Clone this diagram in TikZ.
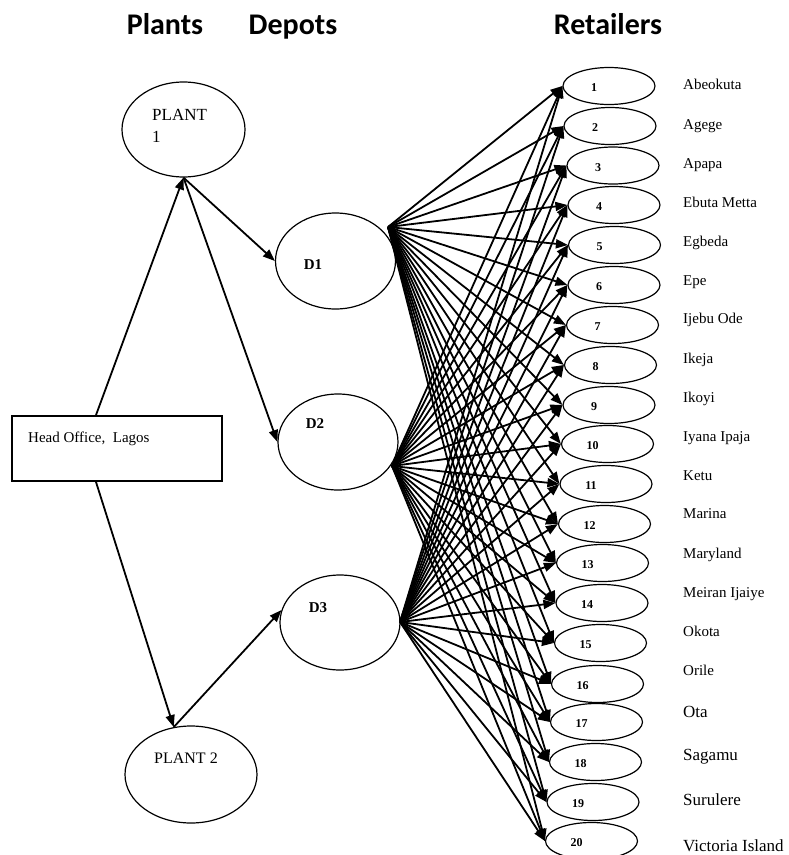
\documentclass[tikz,border=0pt]{standalone}
\usepackage{fontspec}
\setmainfont{Liberation Serif}
\newfontfamily\hdr{Carlito}
\usetikzlibrary{arrows.meta,shapes.geometric,calc}
\begin{document}
\begin{tikzpicture}[x=1pt,y=-1pt,
  oval/.style={draw,ellipse,line width=1.2pt,inner sep=0pt},
  ret/.style={oval,minimum width=92pt,minimum height=37pt},
  dep/.style={oval,minimum width=120pt,minimum height=96pt},
  conn/.style={line width=1.8pt,-{Triangle[length=12pt,width=9pt]}},
  hd/.style={font=\hdr\bfseries\fontsize{30}{34}\selectfont,anchor=base,inner sep=0pt},
  lab/.style={font=\fontsize{15}{18}\selectfont,inner sep=0pt},
  plab/.style={font=\fontsize{17}{20}\selectfont,inner sep=0pt},
  biglab/.style={font=\fontsize{17}{20}\selectfont,inner sep=0pt},
  dlab/.style={font=\bfseries\fontsize{15}{18}\selectfont,inner sep=0pt,anchor=base},
  numlab/.style={font=\bfseries\fontsize{12}{14}\selectfont,inner sep=0pt}]
\useasboundingbox (0,0) rectangle (788,855);

% headers
\node[hd] (hplants) at (165,34) {Plants};
\node[hd] (hdepots) at (293,34) {Depots};
\node[hd] (hret) at (608,34) {Retailers};

% head office and plants
\node[draw,line width=1.2pt,minimum width=210pt,minimum height=65pt,inner sep=0pt] (ho) at (117,448.5) {};
\node[lab,anchor=base west] (holab) at (28,442) {Head Office,\ \ Lagos};
\node[oval,minimum width=123pt,minimum height=95pt] (p1) at (183.5,129.5) {};
\node[plab,anchor=base west] (p1lab) at (152,120) {PLANT};
\node[plab,anchor=base west] (p1lab2) at (152,142) {1};
\node[oval,minimum width=132pt,minimum height=97pt] (p2) at (191,774.5) {};
\node[plab,font=\fontsize{16}{19}\selectfont,anchor=base] (p2lab) at (186,763) {PLANT 2};

% depots
\node[dep] (d1) at (335.5,261) {};
\node[dep] (d2) at (338,442) {};
\node[dep,minimum height=95pt] (d3) at (340,622.5) {};
\node[dlab] (d1lab) at (313,269) {D1};
\node[dlab] (d2lab) at (315,428) {D2};
\node[dlab] (d3lab) at (318,612) {D3};

\coordinate (hotop) at ($(ho.north west)!0.4!(ho.north east)$);
\coordinate (hobot) at ($(ho.south west)!0.4!(ho.south east)$);
\draw[conn] (hotop) -- (p1.south);
\draw[conn] (p1.south) -- (d1.west);
\draw[conn] (p1.south) -- (d2.west);
\draw[conn] (hobot) -- (p2.110);
\draw[conn] (p2.110) -- (d3.168);

% retailers
\foreach \i/\x/\y in {1/609/86,2/610/126,3/613/165.5,4/614/205,5/614.5/245,6/614/285,7/612.5/325,8/610.5/365,9/609/405,10/607.5/444,11/606/484,12/604.5/524,13/602.5/563,14/602/603,15/600.5/643,16/597.5/684,17/596.5/722,18/595.5/762,19/593/802,20/591.5/841}{
  \node[ret] (r\i) at (\x,\y) {};
  \node[numlab] (n\i) at (\x-15,\y+2) {\i};
}
\foreach \i/\n/\b in {1/Abeokuta/89,2/Agege/129,3/Apapa/168,4/Ebuta Metta/207,5/Egbeda/246,6/Epe/285,7/Ijebu Ode/323,8/Ikeja/363,9/Ikoyi/402,10/Iyana Ipaja/441,11/Ketu/480,12/Marina/518,13/Maryland/558,14/Meiran Ijaiye/597,15/Okota/636,16/Orile/675}{
  \node[lab,anchor=base west] (t\i) at (683,\b) {\n};
}
\foreach \i/\n/\b in {17/Ota/717,18/Sagamu/760,19/Surulere/805,20/Victoria Island/851}{
  \node[biglab,anchor=base west] (t\i) at (683,\b) {\n};
}

% emission points
\coordinate (e1) at (388,227);
\coordinate (e2) at (392,466);
\coordinate (e3) at (400,622);
\foreach \e in {e1,e2,e3}{
  \foreach \i in {1,...,20}{
    \draw[conn] (\e) -- (r\i.west);
  }
}
\end{tikzpicture}
\end{document}
